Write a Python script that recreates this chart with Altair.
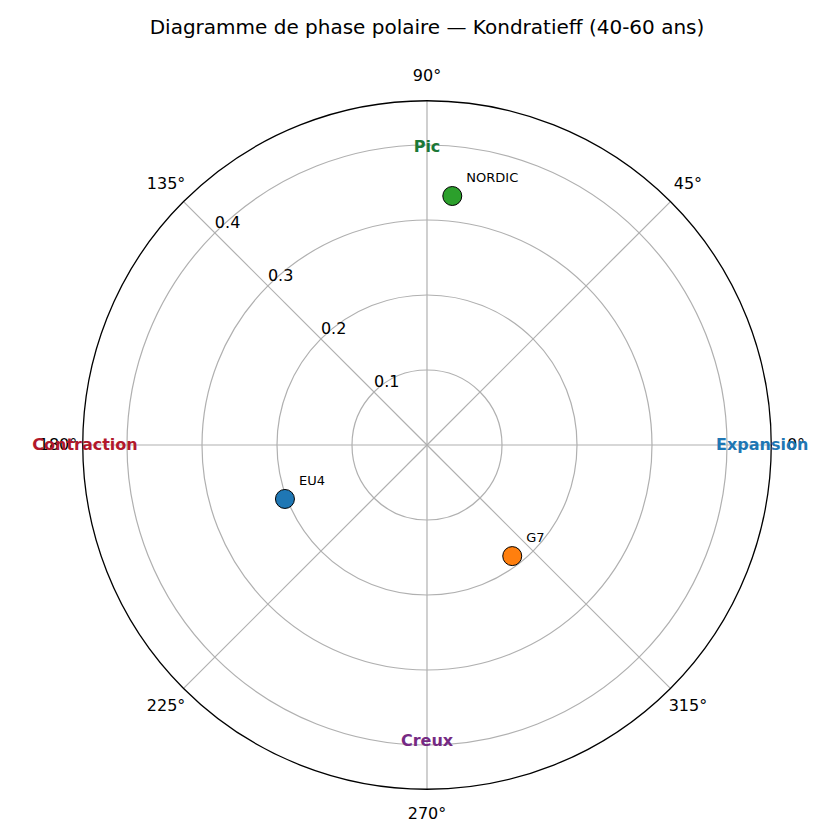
import math
import altair as alt
import pandas as pd

# ---------------- data ----------------
TITLE = "Diagramme de phase polaire — Kondratieff (40-60 ans)"

regions = ["EU4", "G7", "NORDIC"]
phase_angle_deg = [200.8, 307.5, 84.2]
amplitude = [0.2026, 0.1867, 0.3337]
region_colors = ["#1f77b4", "#ff7f0e", "#2ca02c"]

phase_names = ["Expansion", "Pic", "Contraction", "Creux"]
phase_angles = [0, 90, 180, 270]
phase_radius = [0.447, 0.397, 0.456, 0.395]
phase_colors = ["#1f77b4", "#1b7837", "#b2182b", "#762a83"]

r_ticks = [0.1, 0.2, 0.3, 0.4]
r_tick_labels = ["0.1", "0.2", "0.3", "0.4"]
r_max = 0.459
r_label_angle = 135

theta_ticks = [0, 45, 90, 135, 180, 225, 270, 315]
theta_tick_labels = ["0°", "45°", "90°", "135°", "180°", "225°", "270°", "315°"]
theta_label_radius = 0.492

# ---------------- layout ----------------
K = 750.0            # pixels per radial unit
W, H = 824, 768      # view size
CX, CY = 419, 381    # centre of polar axes inside view
PAD_TOP = 56
FONT = "DejaVu Sans"

xs = alt.Scale(domain=[-CX / K, (W - CX) / K], nice=False, zero=False)
ys = alt.Scale(domain=[-(H - CY) / K, CY / K], nice=False, zero=False)
rs = alt.Scale(type="linear", domain=[0, r_max], range=[0, r_max * K], zero=True, nice=False)

def X(field):
    return alt.X(field, type="quantitative", scale=xs, axis=None)

def Y(field):
    return alt.Y(field, type="quantitative", scale=ys, axis=None)

polar_xy = dict(
    px="datum.r * cos(datum.a * PI / 180)",
    py="datum.r * sin(datum.a * PI / 180)",
)

# grid circles
grid_df = pd.DataFrame({"r": r_ticks})
grid = alt.Chart(grid_df).mark_arc(
    filled=False, stroke="#b0b0b0", strokeWidth=1.2, theta=0, theta2=2 * math.pi
).encode(
    x=alt.X(datum=0, type="quantitative", scale=xs, axis=None),
    y=alt.Y(datum=0, type="quantitative", scale=ys, axis=None),
    radius=alt.Radius("r:Q", scale=rs, stack=False),
)

outer_df = pd.DataFrame({"r": [r_max]})
outer = alt.Chart(outer_df).mark_arc(
    filled=False, stroke="black", strokeWidth=1.3, theta=0, theta2=2 * math.pi
).encode(
    x=alt.X(datum=0, type="quantitative", scale=xs, axis=None),
    y=alt.Y(datum=0, type="quantitative", scale=ys, axis=None),
    radius=alt.Radius("r:Q", scale=rs, stack=False),
)

# spokes
spoke_df = pd.DataFrame({"a": theta_ticks})
spokes = alt.Chart(spoke_df).transform_calculate(
    x0="0", y0="0",
    x1=f"{r_max} * cos(datum.a * PI / 180)",
    y1=f"{r_max} * sin(datum.a * PI / 180)",
).mark_rule(color="#b0b0b0", strokeWidth=1.2).encode(
    x=X("x0"), y=Y("y0"), x2="x1:Q", y2="y1:Q"
)

# radial tick labels
rlab_df = pd.DataFrame({"r": r_ticks, "label": r_tick_labels})
rlabels = alt.Chart(rlab_df).transform_calculate(
    a=f"{r_label_angle}", **polar_xy
).mark_text(
    align="left", baseline="bottom", font=FONT, fontSize=16, color="black", dx=0, dy=-2
).encode(x=X("px"), y=Y("py"), text="label:N")

# angular tick labels
tlab_df = pd.DataFrame({"a": theta_ticks, "label": theta_tick_labels})
tlabels = alt.Chart(tlab_df).transform_calculate(
    r=f"{theta_label_radius}", **polar_xy
).mark_text(
    align="center", baseline="middle", font=FONT, fontSize=16, color="black"
).encode(x=X("px"), y=Y("py"), text="label:N")

# phase labels
phase_df = pd.DataFrame({"name": phase_names, "a": phase_angles, "r": phase_radius})
phases = alt.Chart(phase_df).transform_calculate(**polar_xy).mark_text(
    align="center", baseline="middle", font=FONT, fontSize=16, fontWeight="bold"
).encode(
    x=X("px"), y=Y("py"), text="name:N",
    color=alt.Color("name:N", scale=alt.Scale(domain=phase_names, range=phase_colors), legend=None),
)

# points
pts_df = pd.DataFrame({"region": regions, "a": phase_angle_deg, "r": amplitude})
points = alt.Chart(pts_df).transform_calculate(**polar_xy).mark_point(
    shape="circle", filled=True, size=361, stroke="black", strokeWidth=1, opacity=1
).encode(
    x=X("px"), y=Y("py"),
    fill=alt.Fill("region:N", scale=alt.Scale(domain=regions, range=region_colors), legend=None),
)

pt_labels = alt.Chart(pts_df).transform_calculate(**polar_xy).mark_text(
    align="left", baseline="middle", font=FONT, fontSize=13, color="black", dx=14, dy=-18
).encode(x=X("px"), y=Y("py"), text="region:N")

chart = alt.layer(
    grid, spokes, outer, rlabels, tlabels, phases, points, pt_labels
).resolve_scale(
    color="independent", fill="independent"
).properties(
    width=W, height=H,
    autosize=alt.AutoSizeParams(type="none"),
    padding={"left": 0, "top": PAD_TOP, "right": 0, "bottom": 0},
    title=alt.TitleParams(text=TITLE, font=FONT, fontSize=20, fontWeight="normal",
                          color="black", anchor="middle", frame="group", dx=7, offset=26),
).configure_view(strokeWidth=0)

chart.save("out.html", embed_options={"renderer": "svg", "actions": False})
